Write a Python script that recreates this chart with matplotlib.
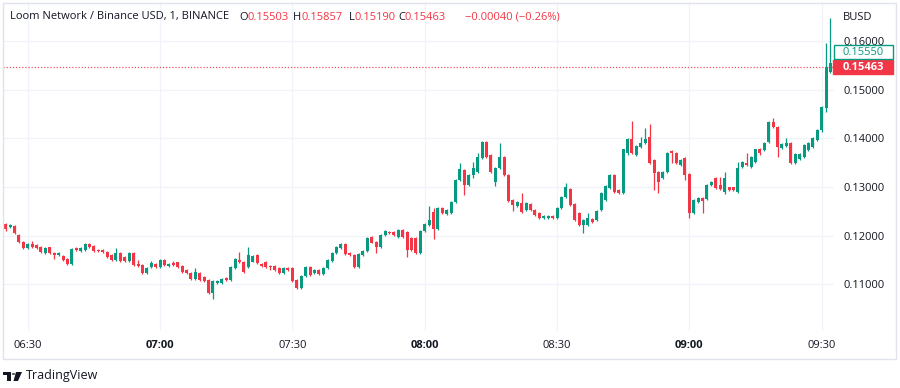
import numpy as np
import matplotlib.pyplot as plt
import matplotlib.transforms as mtransforms
from matplotlib.patches import Rectangle, Polygon, Circle

plt.rcParams['font.family'] = ['Open Sans', 'DejaVu Sans']

# LOOM / BUSD, 1-minutne svijece od 06:25
start_min = 6 * 60 + 25

opens = [
    .1223, .1217, .1220, .1202, .1188, .1174, .1182, .1181, .1176, .1165,
    .1176, .1164, .1160, .1159, .1152, .1141, .1174, .1169, .1171, .1183,
    .1179, .1171, .1171, .1167, .1160, .1150, .1165, .1157, .1148, .1165,
    .1141, .1140, .1124, .1136, .1141, .1136, .1150, .1138, .1143, .1145,
    .1138, .1130, .1124, .1111, .1123, .1116, .1109, .1083, .1102, .1102,
    .1113, .1109, .1133, .1150, .1147, .1136, .1147, .1160, .1141, .1147,
    .1138, .1138, .1134, .1124, .1134, .1133, .1109, .1092, .1117, .1136,
    .1124, .1130, .1121, .1133, .1149, .1164, .1174, .1183, .1164, .1160,
    .1136, .1160, .1169, .1197, .1188, .1177, .1201, .1208, .1208, .1198,
    .1212, .1208, .1195, .1195, .1165, .1210, .1222, .1249, .1214, .1256,
    .1245, .1246, .1270, .1314, .1335, .1304, .1325, .1331, .1359, .1392,
    .1366, .1310, .1339, .1362, .1325, .1273, .1260, .1267, .1253, .1265,
    .1253, .1246, .1236, .1236, .1241, .1237, .1256, .1280, .1296, .1265,
    .1246, .1222, .1222, .1234, .1232, .1253, .1273, .1297, .1325, .1294,
    .1287, .1370, .1398, .1366, .1383, .1390, .1403, .1355, .1331, .1318,
    .1331, .1373, .1369, .1345, .1359, .1327, .1246, .1270, .1277, .1275,
    .1304, .1318, .1304, .1290, .1299, .1299, .1290, .1342, .1349, .1342,
    .1352, .1377, .1376, .1393, .1434, .1424, .1380, .1384, .1390, .1349,
    .1357, .1362, .1376, .1383, .1397, .1417, .1462, .1537, .15503,
]
highs = [
    .1227, .1223, .1222, .1204, .1190, .1184, .1190, .1183, .1178, .1176,
    .1177, .1166, .1166, .1161, .1154, .1174, .1176, .1176, .1185, .1185,
    .1181, .1173, .1173, .1169, .1162, .1175, .1167, .1159, .1167, .1167,
    .1150, .1142, .1136, .1149, .1143, .1152, .1152, .1143, .1149, .1147,
    .1140, .1132, .1126, .1133, .1125, .1118, .1111, .1109, .1109, .1113,
    .1115, .1138, .1154, .1167, .1149, .1177, .1160, .1162, .1143, .1149,
    .1140, .1140, .1136, .1136, .1136, .1135, .1111, .1119, .1138, .1138,
    .1132, .1132, .1135, .1152, .1167, .1178, .1185, .1185, .1166, .1162,
    .1164, .1171, .1197, .1199, .1190, .1203, .1212, .1210, .1210, .1214,
    .1214, .1210, .1197, .1197, .1212, .1226, .1260, .1256, .1258, .1258,
    .1255, .1272, .1316, .1350, .1337, .1327, .1351, .1369, .1395, .1395,
    .1368, .1342, .1390, .1364, .1327, .1275, .1271, .1287, .1269, .1267,
    .1255, .1248, .1243, .1243, .1243, .1258, .1282, .1308, .1298, .1267,
    .1248, .1234, .1246, .1236, .1253, .1289, .1304, .1327, .1327, .1296,
    .1379, .1400, .1436, .1386, .1403, .1421, .1429, .1357, .1333, .1333,
    .1371, .1375, .1371, .1357, .1361, .1329, .1275, .1279, .1279, .1306,
    .1313, .1320, .1321, .1330, .1301, .1301, .1352, .1354, .1370, .1364,
    .1379, .1380, .1392, .1436, .1442, .1426, .1390, .1400, .1392, .1370,
    .1370, .1388, .1392, .1403, .1419, .1467, .1595, .1647, .15857,
]
lows = [
    .1210, .1215, .1203, .1186, .1172, .1172, .1174, .1172, .1165, .1163,
    .1162, .1152, .1158, .1148, .1139, .1139, .1169, .1167, .1169, .1175,
    .1167, .1167, .1164, .1155, .1148, .1148, .1146, .1146, .1146, .1138,
    .1136, .1122, .1122, .1134, .1134, .1134, .1138, .1136, .1138, .1134,
    .1123, .1121, .1109, .1109, .1107, .1104, .1080, .1071, .1100, .1100,
    .1107, .1107, .1131, .1143, .1123, .1134, .1145, .1141, .1136, .1134,
    .1130, .1128, .1122, .1122, .1128, .1104, .1090, .1090, .1115, .1117,
    .1122, .1119, .1119, .1131, .1147, .1162, .1172, .1160, .1158, .1134,
    .1134, .1158, .1167, .1184, .1164, .1175, .1199, .1203, .1199, .1196,
    .1196, .1156, .1169, .1163, .1163, .1208, .1220, .1193, .1212, .1245,
    .1243, .1244, .1268, .1312, .1284, .1302, .1318, .1329, .1357, .1360,
    .1329, .1303, .1337, .1323, .1269, .1251, .1258, .1247, .1251, .1251,
    .1241, .1234, .1234, .1234, .1235, .1235, .1254, .1278, .1261, .1230,
    .1220, .1206, .1220, .1227, .1230, .1251, .1271, .1295, .1288, .1285,
    .1285, .1366, .1368, .1364, .1381, .1388, .1347, .1294, .1287, .1316,
    .1329, .1349, .1347, .1343, .1314, .1237, .1244, .1268, .1247, .1273,
    .1302, .1295, .1294, .1286, .1292, .1291, .1288, .1340, .1343, .1340,
    .1350, .1366, .1374, .1391, .1422, .1362, .1378, .1382, .1347, .1347,
    .1355, .1360, .1374, .1381, .1395, .1413, .1454, .1535, .15190,
]
closes = [
    .1213, .1221, .1205, .1188, .1174, .1182, .1176, .1174, .1167, .1174,
    .1164, .1160, .1164, .1150, .1141, .1172, .1171, .1174, .1183, .1177,
    .1169, .1169, .1166, .1157, .1150, .1164, .1148, .1148, .1165, .1140,
    .1138, .1124, .1134, .1143, .1136, .1150, .1140, .1141, .1140, .1136,
    .1125, .1123, .1111, .1125, .1109, .1106, .1082, .1107, .1107, .1111,
    .1109, .1136, .1152, .1145, .1126, .1160, .1158, .1143, .1138, .1136,
    .1135, .1130, .1124, .1134, .1130, .1106, .1092, .1117, .1136, .1119,
    .1130, .1121, .1133, .1150, .1165, .1176, .1183, .1162, .1160, .1136,
    .1162, .1169, .1195, .1186, .1177, .1201, .1210, .1205, .1201, .1212,
    .1198, .1171, .1171, .1165, .1210, .1224, .1232, .1214, .1256, .1247,
    .1253, .1270, .1314, .1336, .1304, .1325, .1338, .1362, .1392, .1362,
    .1331, .1340, .1362, .1325, .1271, .1262, .1269, .1249, .1267, .1253,
    .1243, .1236, .1241, .1241, .1237, .1256, .1280, .1299, .1263, .1232,
    .1222, .1232, .1236, .1229, .1251, .1287, .1302, .1325, .1290, .1287,
    .1377, .1398, .1370, .1384, .1390, .1398, .1349, .1328, .1311, .1331,
    .1369, .1369, .1349, .1355, .1325, .1246, .1273, .1277, .1272, .1304,
    .1311, .1297, .1296, .1319, .1294, .1293, .1339, .1352, .1345, .1362,
    .1377, .1369, .1390, .1434, .1424, .1383, .1388, .1390, .1349, .1368,
    .1368, .1386, .1390, .1401, .1417, .1465, .1547, .1554, .15463,
]

time_labels = ['06:30', '07:00', '07:30', '08:00', '08:30', '09:00', '09:30']
price_ticks = [0.11, 0.12, 0.13, 0.14, 0.15, 0.16]
green_label = 0.15550

header = 'Loom Network / Binance USD, 1, BINANCE'
change = '\u22120.00040 (\u22120.26%)'

green = '#089981'
red = '#F23645'
txt = '#131722'
W, H = 900, 388

fig = plt.figure(figsize=(W / 100, H / 100), dpi=100)
fig.patch.set_facecolor('white')
# glavni panel (pikseli: x 3-834, y 3-331)
ax = fig.add_axes([3 / W, 1 - 331 / H, 831 / W, 328 / H])

o = np.array(opens)
c = np.array(closes)
x = np.arange(len(c))
cols = np.where(c >= o, green, red)

# fitilji pa tijela
ax.vlines(x, lows, highs, colors=cols, linewidth=0.9, zorder=3)
body_lo = np.minimum(o, c)
body_h = np.maximum(np.abs(c - o), 0.00015)
ax.bar(x, body_h, bottom=body_lo, width=0.68, color=cols, linewidth=0, zorder=4)

ax.set_xlim(-0.61, 187.8)
ax.set_ylim(0.10043, 0.16778)
for s in ax.spines.values():
    s.set_visible(False)

# vremenska os
tick_pos = [int(t[:2]) * 60 + int(t[3:]) - start_min for t in time_labels]
ax.set_xticks(tick_pos)
ax.set_xticklabels(time_labels, fontsize=8, color=txt)
for lab in ax.get_xticklabels():
    if lab.get_text().endswith(':00'):
        lab.set_fontweight('bold')
ax.tick_params(axis='x', length=0, pad=6.5)

# cjenovna os desno
ax.yaxis.tick_right()
ax.set_yticks(price_ticks)
ax.set_yticklabels(['%.5f' % p for p in price_ticks], fontsize=8, color=txt)
ax.tick_params(axis='y', length=0, pad=6.5)

ax.grid(color='#f0f3fa', linewidth=0.9, zorder=0)
ax.set_axisbelow(True)

# tockasta linija zadnje cijene
last = closes[-1]
ax.axhline(last, color=red, linestyle=(0, (1, 1.5)), linewidth=0.9, zorder=2,
           alpha=0.85)

# oznake cijene na osi
px = (0.16778 - 0.10043) / 328
tr = mtransforms.blended_transform_factory(fig.transFigure, ax.transData)
ax.add_artist(Rectangle((833 / W, last - 7 * px), 60 / W, 14 * px, transform=tr,
                        facecolor=red, edgecolor=red, clip_on=False, zorder=10))
ax.text(863 / W, last, '%.5f' % last, transform=tr, ha='center', va='center',
        color='white', fontsize=8, fontweight='bold', zorder=11, clip_on=False)
gy = last + 15 * px
ax.add_artist(Rectangle((833.5 / W, gy - 7 * px), 59 / W, 14 * px, transform=tr,
                        facecolor='white', edgecolor=green, linewidth=1,
                        clip_on=False, zorder=10))
ax.text(863 / W, gy, '%.5f' % green_label, transform=tr, ha='center',
        va='center', color=green, fontsize=8, zorder=11, clip_on=False)

fig.text(843 / W, 1 - 17 / H, 'BUSD', fontsize=8, color=txt, va='center')

# naslov s OHLC
fig.text(10 / W, 1 - 17 / H, header, fontsize=8, color=txt, va='center')
ohlc = [('O', opens[-1], 239), ('H', highs[-1], 293), ('L', lows[-1], 349),
        ('C', closes[-1], 398)]
for k, v, xp in ohlc:
    t = fig.text(xp / W, 1 - 17 / H, k, fontsize=8, color=txt, va='center')
    ax.annotate('%.5f' % v, xy=(1, 0.5), xycoords=t, va='center', ha='left',
                fontsize=8, color=red, annotation_clip=False)
fig.text(465 / W, 1 - 17 / H, change, fontsize=8, color=red, va='center')

# okvir
fig.add_artist(Rectangle((3 / W, 1 - 359 / H), 893 / W, 356 / H,
                         transform=fig.transFigure, fill=False,
                         edgecolor='#e0e3eb', linewidth=1))

# TradingView logo
logo = [Rectangle((3 / W, 1 - 375 / H), 8 / W, 3 / H),
        Rectangle((7 / W, 1 - 381 / H), 4 / W, 9 / H),
        Circle((13.5 / W, 1 - 374 / H), 1.7 / W),
        Polygon([(16 / W, 1 - 372 / H), (22 / W, 1 - 372 / H),
                 (18 / W, 1 - 381 / H), (13.5 / W, 1 - 381 / H)])]
for p in logo:
    p.set_transform(fig.transFigure)
    p.set_facecolor(txt)
    p.set_edgecolor('none')
    fig.add_artist(p)
fig.text(26 / W, 1 - 376 / H, 'TradingView', fontsize=9, color=txt, va='center')

fig.savefig('out.png', dpi=100)
